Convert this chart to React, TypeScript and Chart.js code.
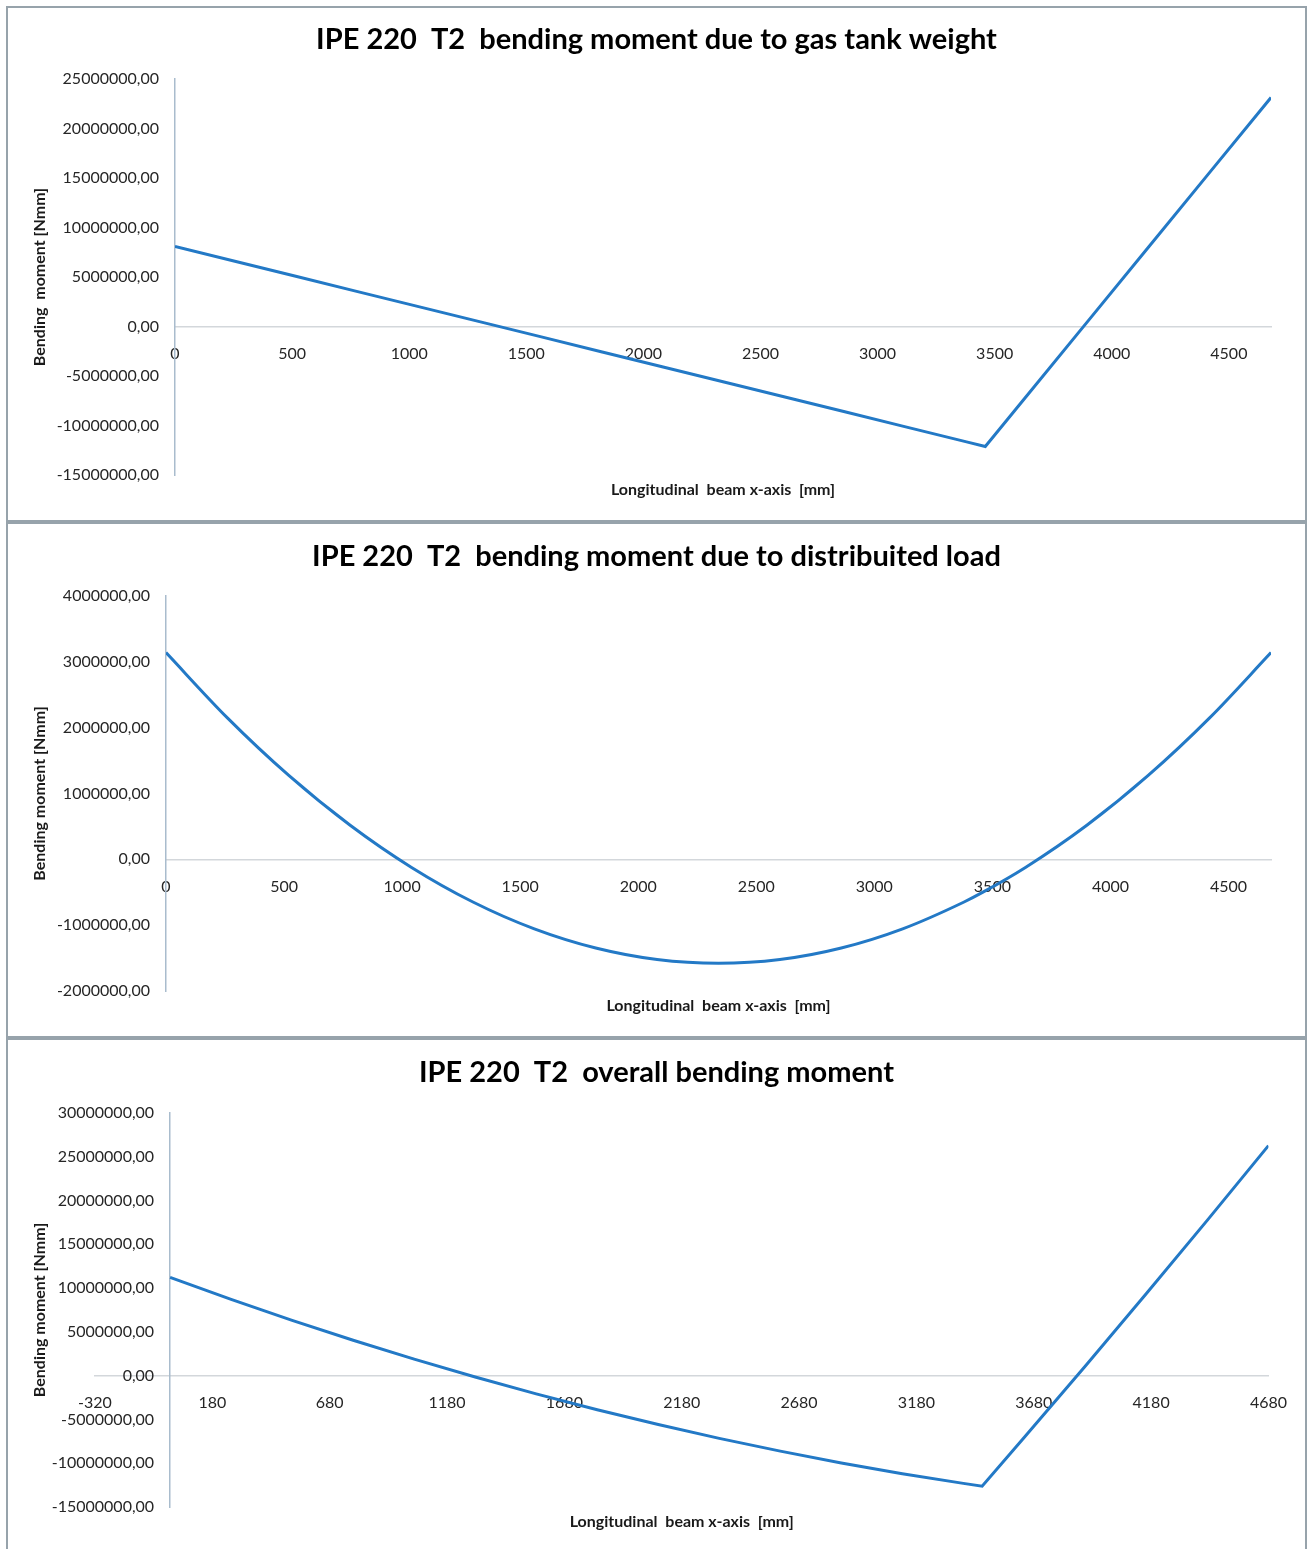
import React, { useEffect, useRef } from 'react';
import { Chart, registerables } from 'chart.js';

Chart.register(...registerables);

// ---- data ----
const xPositions = [0, 260, 520, 780, 1040, 1300, 1560, 1820, 2080, 2340, 2600, 2860, 3120, 3380, 3460, 3640, 3900, 4160, 4420, 4680];

const gasTankMoment = [8080000, 6562000, 5044000, 3526000, 2008000, 491000, -1027000, -2545000, -4063000, -5581000, -7099000, -8617000, -10135000, -11653000, -12120000, -6919000, 593000, 8105000, 15617000, 23130000];

const distributedMoment = [3140000, 2149000, 1275000, 518000, -123000, -648000, -1056000, -1347000, -1522000, -1580000, -1522000, -1347000, -1056000, -648000, -499000, -123000, 518000, 1275000, 2149000, 3140000];

const overallMoment = [11220000, 8711000, 6319000, 4044000, 1885000, -157000, -2083000, -3892000, -5585000, -7161000, -8621000, -9964000, -11191000, -12301000, -12619000, -7042000, 1111000, 9380000, 17766000, 26270000];

const xTicksStandard = [0, 500, 1000, 1500, 2000, 2500, 3000, 3500, 4000, 4500];
const xTicksOverall = [-320, 180, 680, 1180, 1680, 2180, 2680, 3180, 3680, 4180, 4680];

const yTicksGasTank = [-15000000, -10000000, -5000000, 0, 5000000, 10000000, 15000000, 20000000, 25000000];
const yTicksDistributed = [-2000000, -1000000, 0, 1000000, 2000000, 3000000, 4000000];
const yTicksOverall = [-15000000, -10000000, -5000000, 0, 5000000, 10000000, 15000000, 20000000, 25000000, 30000000];

const titles = [
  'IPE 220  T2  bending moment due to gas tank weight',
  'IPE 220  T2  bending moment due to distribuited load',
  'IPE 220  T2  overall bending moment',
];
const yTitles = ['Bending  moment [Nmm]', 'Bending moment [Nmm]', 'Bending moment [Nmm]'];
const xTitle = 'Longitudinal  beam x-axis  [mm]';

// ---- layout / style ----
const FONT = 'Lato, "Open Sans", sans-serif';
const LINE_COLOR = '#2379c6';
const TICK_PAD = '\u2002\u2002';

type PanelSpec = {
  title: string;
  yTitle: string;
  values: number[];
  xTicks: number[];
  yTicks: number[];
  xMin: number;
  xMax: number;
  top: number;
  height: number;
  padLeft: number;
  padBottom: number;
  chartTop: number;
  titleCenter: number;
  smooth: boolean;
};

const panels: PanelSpec[] = [
  { title: titles[0], yTitle: yTitles[0], values: gasTankMoment, xTicks: xTicksStandard, yTicks: yTicksGasTank, xMin: 0, xMax: 4680, top: 6, height: 516, padLeft: 167, padBottom: 45, chartTop: 71, titleCenter: 32, smooth: false },
  { title: titles[1], yTitle: yTitles[1], values: distributedMoment, xTicks: xTicksStandard, yTicks: yTicksDistributed, xMin: 0, xMax: 4680, top: 522, height: 516, padLeft: 158, padBottom: 45, chartTop: 72, titleCenter: 33, smooth: true },
  { title: titles[2], yTitle: yTitles[2], values: overallMoment, xTicks: xTicksOverall, yTicks: yTicksOverall, xMin: -320, xMax: 4680, top: 1038, height: 514, padLeft: 87, padBottom: 43, chartTop: 73, titleCenter: 33, smooth: false },
];

const textPlugin = {
  id: 'panelTexts',
  afterDraw(chart: any, _args: any, opts: any) {
    const { ctx, chartArea, width } = chart;
    ctx.save();
    ctx.textAlign = 'center';
    ctx.textBaseline = 'middle';
    // chart title, centred on the whole panel
    ctx.fillStyle = '#000';
    ctx.font = `bold 29px ${FONT}`;
    ctx.fillText(opts.title, width / 2, opts.titleY);
    // axis titles
    ctx.fillStyle = '#1a1a1a';
    ctx.font = `bold 16px ${FONT}`;
    ctx.fillText(opts.x, (chartArea.left + chartArea.right) / 2, chartArea.bottom + opts.xGap);
    ctx.translate(opts.yX, (chartArea.top + chartArea.bottom) / 2);
    ctx.rotate(-Math.PI / 2);
    ctx.fillText(opts.y, 0, 0);
    ctx.restore();
  },
};

function fmtY(v: number) {
  return v.toFixed(2).replace('.', ',') + TICK_PAD;
}

function Panel({ spec }: { spec: PanelSpec }) {
  const ref = useRef<HTMLCanvasElement | null>(null);
  const canvasW = 1297;
  const canvasH = spec.height - 4;

  useEffect(() => {
    if (!ref.current) return;
    const chart = new Chart(ref.current, {
      type: 'line',
      data: {
        datasets: [
          {
            data: xPositions.map((x, i) => ({ x, y: spec.values[i] })),
            borderColor: LINE_COLOR,
            backgroundColor: LINE_COLOR,
            borderWidth: 3,
            pointRadius: 0,
            fill: false,
            tension: spec.smooth ? 0.4 : 0,
            cubicInterpolationMode: spec.smooth ? 'monotone' : 'default',
          } as any,
        ],
      },
      options: {
        responsive: false,
        animation: false,
        layout: { padding: { left: spec.padLeft, right: 34, top: spec.chartTop, bottom: spec.padBottom } },
        plugins: {
          legend: { display: false },
          tooltip: { enabled: false },
          title: { display: false },
          panelTexts: { title: spec.title, titleY: spec.titleCenter, x: xTitle, y: spec.yTitle, xGap: 15, yX: 32 },
        } as any,
        scales: {
          x: {
            type: 'linear',
            position: { y: 0 } as any,
            min: spec.xMin,
            max: spec.xMax,
            grid: { display: false, drawTicks: false },
            border: { display: true, color: '#d3d7db', width: 1.5 },
            afterBuildTicks: (axis: any) => {
              axis.ticks = spec.xTicks.map((v) => ({ value: v }));
            },
            ticks: {
              autoSkip: false,
              maxRotation: 0,
              padding: 18,
              color: '#262626',
              font: { family: FONT, size: 16 },
              callback: (v: any) => String(v),
            },
          },
          y: {
            type: 'linear',
            position: { x: 0 } as any,
            min: spec.yTicks[0],
            max: spec.yTicks[spec.yTicks.length - 1],
            grid: { display: false, drawTicks: false },
            border: { display: true, color: '#a9bccd', width: 1.5 },
            afterBuildTicks: (axis: any) => {
              axis.ticks = spec.yTicks.map((v) => ({ value: v }));
            },
            ticks: {
              autoSkip: false,
              color: '#262626',
              font: { family: FONT, size: 16 },
              callback: (v: any) => fmtY(Number(v)),
            },
          },
        },
      },
      plugins: [textPlugin as any],
    });
    return () => chart.destroy();
  }, [spec]);

  return (
    <div
      style={{
        position: 'absolute',
        left: 6,
        top: spec.top,
        width: 1301,
        height: spec.height,
        boxSizing: 'border-box',
        border: '2px solid #97a3ab',
        background: '#fff',
      }}
    >
      <canvas ref={ref} width={canvasW} height={canvasH} style={{ display: 'block', width: canvasW, height: canvasH }} />
    </div>
  );
}

export default function App() {
  return (
    <div style={{ position: 'absolute', left: 0, top: 0, width: 1311, height: 1549, background: '#fff', overflow: 'hidden' }}>
      {panels.map((p, i) => (
        <Panel key={i} spec={p} />
      ))}
    </div>
  );
}
